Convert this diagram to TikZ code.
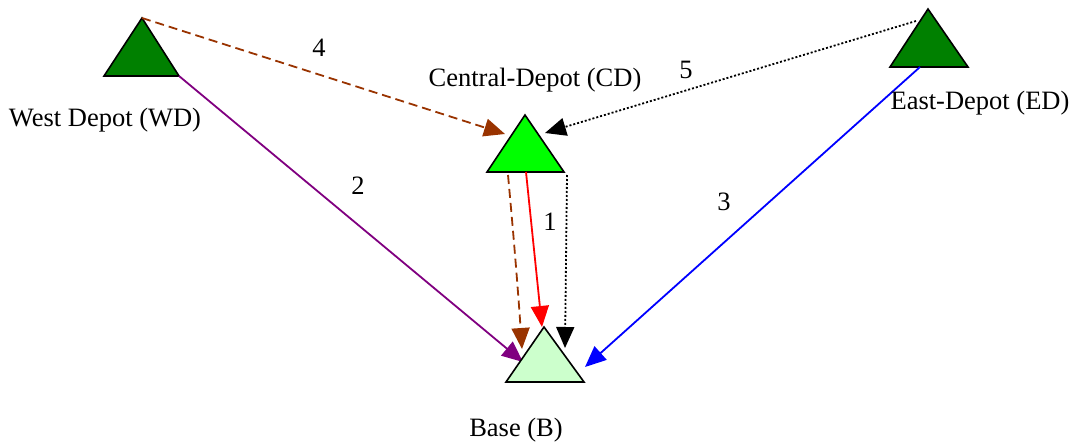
\documentclass[tikz,border=0pt]{standalone}
\usepackage{fontspec}
\setmainfont{Liberation Serif}
\usetikzlibrary{arrows.meta}
\definecolor{dgreen}{RGB}{0,128,0}
\definecolor{bgreen}{RGB}{0,255,0}
\definecolor{lgreen}{RGB}{204,255,204}
\definecolor{brn}{RGB}{153,51,0}
\definecolor{purp}{RGB}{128,0,128}
\tikzset{
  tri/.style={draw=black, line width=1.6pt, line join=miter},
  lbl/.style={font=\fontsize{26.5}{30}\selectfont, inner sep=0pt},
  con/.style={line width=1.8pt, -{Triangle[length=21pt,width=18pt]}},
  dsh/.style={dash pattern=on 9pt off 5pt},
  dtt/.style={dash pattern=on 2pt off 2pt},
}
\begin{document}
\begin{tikzpicture}[x=1pt,y=-1pt]
\useasboundingbox (0,0) rectangle (1074,444);
% triangle corners
\coordinate (WDt) at (142,18);  \coordinate (WDl) at (104,76);  \coordinate (WDr) at (179,76);
\coordinate (CDt) at (525,115); \coordinate (CDl) at (487,172); \coordinate (CDr) at (564,172);
\coordinate (EDt) at (928,9);   \coordinate (EDl) at (890,67);  \coordinate (EDr) at (968,67);
\coordinate (Bt) at (544,327);  \coordinate (Bl) at (506,382);  \coordinate (Br) at (584,382);
% connector ends
\coordinate (e4) at (505,134);
\coordinate (s5) at (916,21);
\coordinate (e5) at (545,133);
\coordinate (e2) at (523,362);
\coordinate (s3) at (920,67);
\coordinate (e3) at (585,367);
\coordinate (s1) at (526,172);
\coordinate (e1) at (542,327);
\coordinate (sb) at (508,175);
\coordinate (eb) at (522,349);
\coordinate (sk) at (567,175);
\coordinate (ek) at (565,348);
% triangles
\draw[tri, fill=dgreen] (WDt) -- (WDl) -- (WDr) -- cycle;
\draw[tri, fill=bgreen] (CDt) -- (CDl) -- (CDr) -- cycle;
\draw[tri, fill=dgreen] (EDt) -- (EDl) -- (EDr) -- cycle;
% connectors
\draw[con, brn, dsh] (WDt) -- (e4);
\draw[con, black, dtt] (s5) -- (e5);
\draw[con, purp] (WDr) -- (e2);
\draw[con, blue] (s3) -- (e3);
\draw[con, brn, dsh] (sb) .. controls (514,240) and (518,290) .. (eb);
\draw[con, black, dtt] (sk) -- (ek);
\draw[con, red] (s1) -- (e1);
\draw[tri, fill=lgreen] (Bt) -- (Bl) -- (Br) -- cycle;
% labels
\node[lbl] (lWD) at (105,120) {West Depot (WD)};
\node[lbl] (lCD) at (535,80) {Central-Depot (CD)};
\node[lbl] (lED) at (980,103) {East-Depot (ED)};
\node[lbl] (lB) at (516,430) {Base (B)};
\node[lbl] (n4) at (319,48) {4};
\node[lbl] (n5) at (686,70) {5};
\node[lbl] (n2) at (358,186) {2};
\node[lbl] (n1) at (550,222) {1};
\node[lbl] (n3) at (724,202) {3};
\end{tikzpicture}
\end{document}
